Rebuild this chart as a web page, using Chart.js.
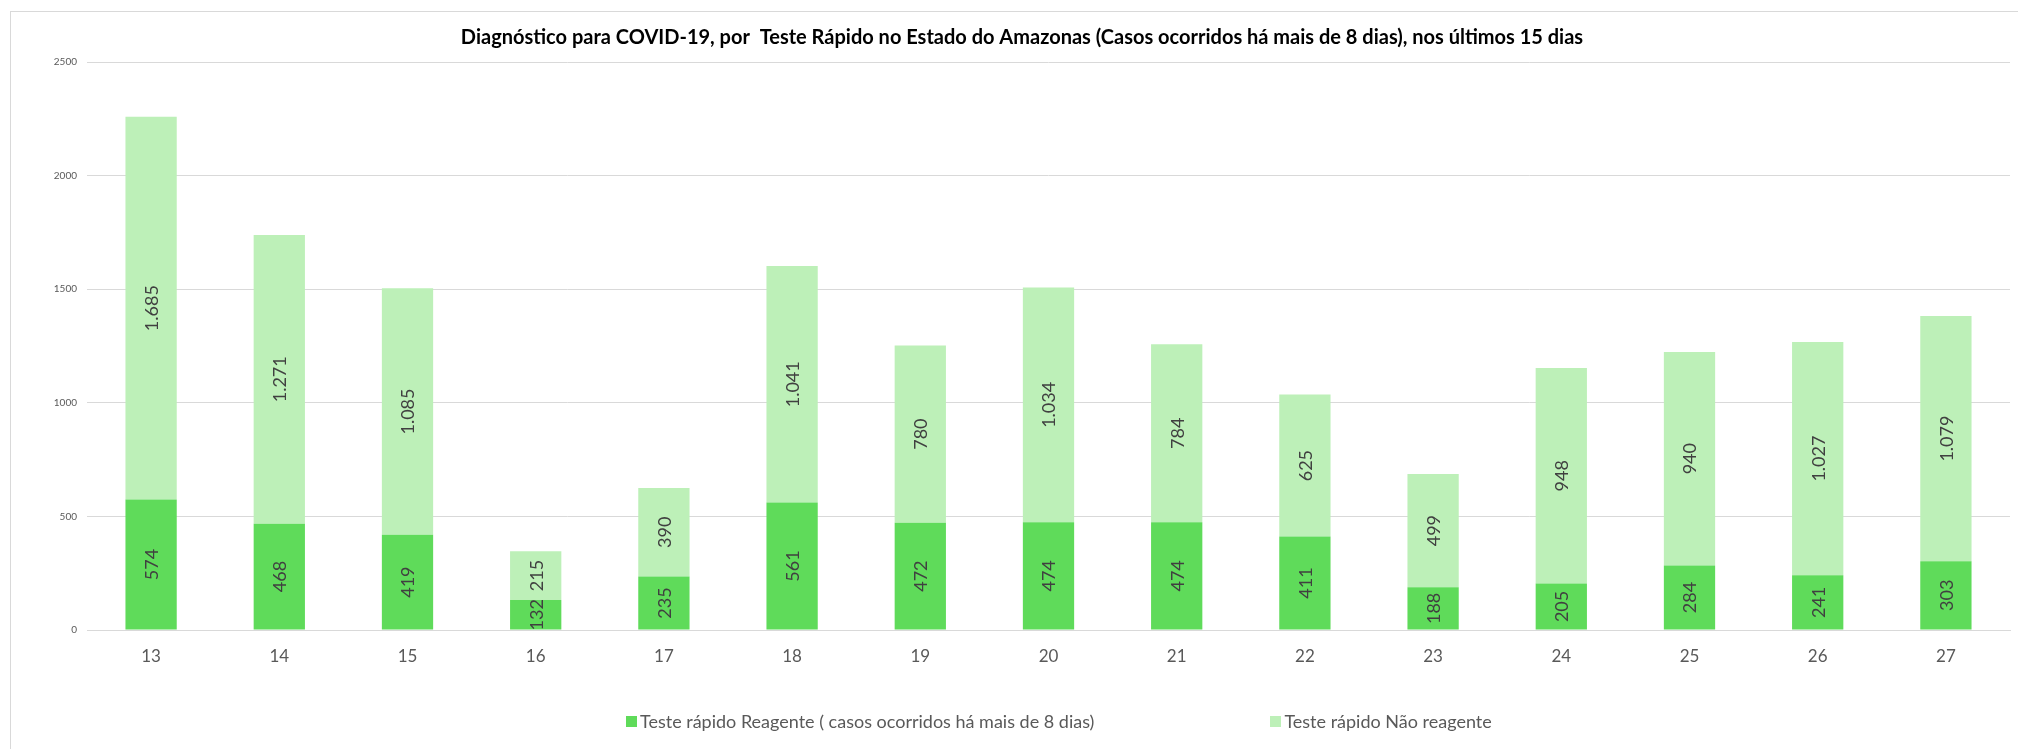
<!DOCTYPE html>
<html>
<head>
<meta charset="utf-8">
<title>Diagnóstico COVID-19 - Teste Rápido Amazonas</title>
<script src="https://cdn.jsdelivr.net/npm/chart.js@4.4.1/dist/chart.umd.min.js"></script>
<style>
    html, body { margin: 0; background: #fff; overflow: hidden; font-family: Lato, sans-serif; }
    #frame { position: absolute; left: 10px; top: 11px; width: 2100px; height: 800px; border: 1px solid #d9d9d9; }
    #wrap { position: absolute; left: 0; top: 0; width: 2018px; height: 749px; }
    #legend { position: absolute; left: 626px; top: 710px; display: flex; gap: 176px; color: #595959; font-size: 18px; }
    .item { display: flex; align-items: center; }
    .box { width: 11px; height: 11px; margin-right: 3px; }
</style>
</head>
<body>
<div id="frame"></div>
<div id="wrap"><canvas id="chart"></canvas></div>
<div id="legend"></div>
<script>
const days = ['13', '14', '15', '16', '17', '18', '19', '20', '21', '22', '23', '24', '25', '26', '27'];
const reagente = [574, 468, 419, 132, 235, 561, 472, 474, 474, 411, 188, 205, 284, 241, 303];
const naoReagente = [1685, 1271, 1085, 215, 390, 1041, 780, 1034, 784, 625, 499, 948, 940, 1027, 1079];
const seriesNames = ['Teste rápido Reagente ( casos ocorridos há mais de 8 dias)', 'Teste rápido Não reagente'];
const seriesColors = ['#5fdb5a', '#bdf0b8'];
const yTicks = [0, 500, 1000, 1500, 2000, 2500];

const titleText = 'Diagnóstico para COVID-19, por  Teste Rápido no Estado do Amazonas (Casos ocorridos há mais de 8 dias), nos últimos 15 dias';

function fmt(n) {
    return String(n).replace(/\B(?=(\d{3})+(?!\d))/g, '.');
}

// rotated value labels in the middle of each segment
const barLabels = {
    id: 'barLabels',
    afterDatasetsDraw(chart) {
        const ctx = chart.ctx;
        ctx.save();
        ctx.font = '18px Lato';
        ctx.fillStyle = '#404040';
        ctx.textAlign = 'center';
        ctx.textBaseline = 'middle';
        chart.data.datasets.forEach((ds, i) => {
            chart.getDatasetMeta(i).data.forEach((bar, j) => {
                const mid = (bar.y + bar.base) / 2;
                ctx.save();
                ctx.translate(bar.x + 1, mid);
                ctx.rotate(-Math.PI / 2);
                ctx.fillText(fmt(ds.data[j]), 0, 0);
                ctx.restore();
            });
        });
        ctx.restore();
    }
};

const chart = new Chart(document.getElementById('chart'), {
    type: 'bar',
    data: {
        labels: days,
        datasets: [
            { label: seriesNames[0], data: reagente, backgroundColor: seriesColors[0] },
            { label: seriesNames[1], data: naoReagente, backgroundColor: seriesColors[1] }
        ]
    },
    options: {
        responsive: true,
        maintainAspectRatio: false,
        animation: false,
        layout: { padding: { top: 26, left: 34, right: 8, bottom: 0 } },
        datasets: { bar: { barPercentage: 0.4, categoryPercentage: 1 } },
        plugins: {
            legend: { display: false },
            tooltip: { enabled: false },
            title: {
                display: true,
                text: titleText,
                color: '#000',
                font: { family: 'Lato', size: 20, weight: 'bold' },
                padding: { top: 0, bottom: 12 }
            }
        },
        scales: {
            x: {
                stacked: true,
                grid: { display: false, drawTicks: false },
                border: { display: true, color: '#d9d9d9', width: 1 },
                ticks: { color: '#595959', font: { family: 'Lato', size: 17 }, padding: 16 },
                afterFit(scale) { scale.height = 119; }
            },
            y: {
                stacked: true,
                min: yTicks[0],
                max: yTicks[yTicks.length - 1],
                afterBuildTicks(scale) { scale.ticks = yTicks.map(v => ({ value: v })); },
                grid: { color: '#d9d9d9', drawTicks: false },
                border: { display: false },
                ticks: {
                    color: '#595959',
                    font: { family: 'Lato', size: 10 },
                    padding: 10,
                    callback: v => String(v)
                },
                afterFit(scale) { scale.width = 53; }
            }
        }
    },
    plugins: [barLabels]
});

const legend = document.getElementById('legend');
seriesNames.forEach((name, i) => {
    const item = document.createElement('div');
    item.className = 'item';
    item.innerHTML = `<span class="box" style="background:${seriesColors[i]}"></span><span>${name}</span>`;
    legend.appendChild(item);
});
</script>
</body>
</html>
